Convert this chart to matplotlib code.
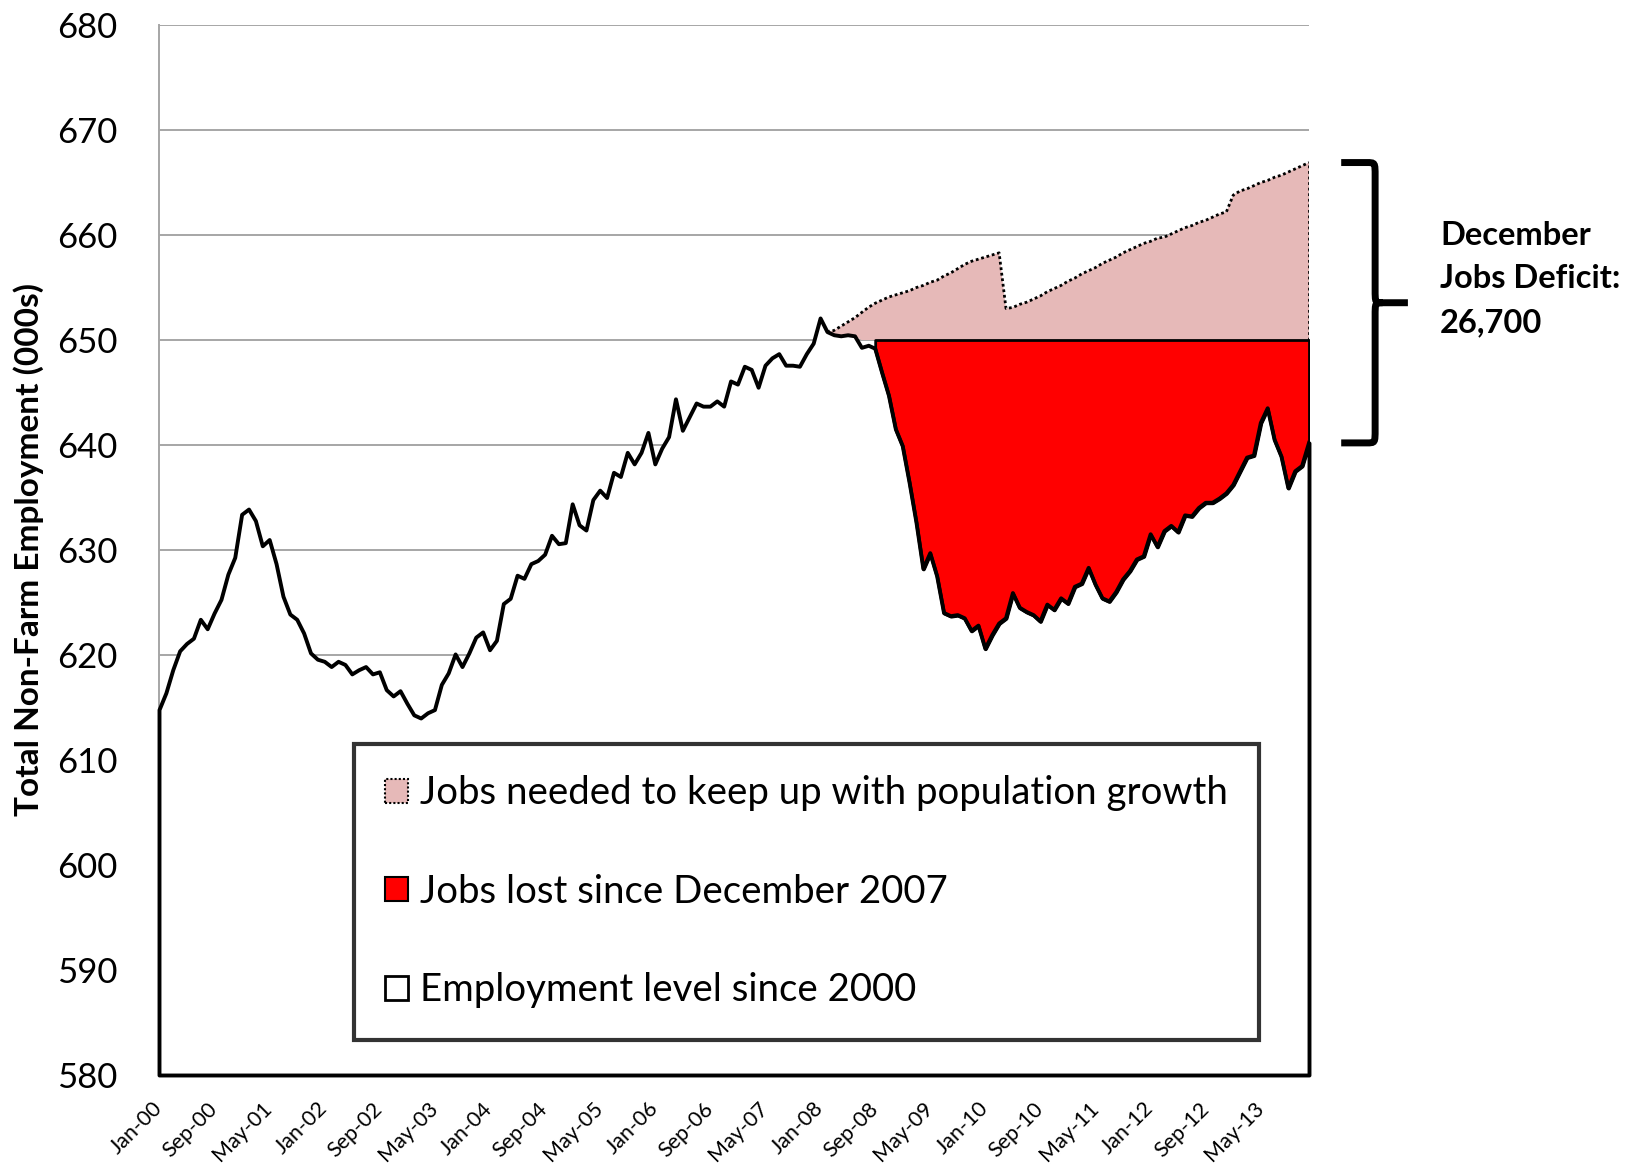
import numpy as np
import matplotlib
matplotlib.use("Agg")
import matplotlib.pyplot as plt
from matplotlib.patches import Patch, PathPatch
from matplotlib.path import Path
from matplotlib.transforms import blended_transform_factory

plt.rcParams["font.family"] = ["Lato", "DejaVu Sans"]

# Monthly total non-farm employment (thousands), Jan 2000 - Dec 2013
employment = [
    # 2000
    614.8, 616.4, 618.6, 620.4, 621.1, 621.6, 623.4, 622.5, 624.0, 625.3, 627.7, 629.3,
    # 2001
    633.4, 633.9, 632.8, 630.4, 631.0, 628.7, 625.6, 623.9, 623.4, 622.1, 620.2, 619.6,
    # 2002
    619.4, 618.9, 619.4, 619.1, 618.2, 618.6, 618.9, 618.2, 618.4, 616.7, 616.1, 616.6,
    # 2003
    615.4, 614.3, 614.0, 614.5, 614.8, 617.2, 618.3, 620.1, 618.9, 620.2, 621.7, 622.2,
    # 2004
    620.5, 621.4, 624.9, 625.4, 627.6, 627.3, 628.7, 629.0, 629.6, 631.4, 630.6, 630.7,
    # 2005
    634.4, 632.4, 631.9, 634.8, 635.7, 635.0, 637.4, 637.0, 639.3, 638.2, 639.3, 641.2,
    # 2006
    638.2, 639.7, 640.8, 644.4, 641.4, 642.7, 644.0, 643.7, 643.7, 644.2, 643.7, 646.1,
    # 2007
    645.8, 647.5, 647.2, 645.5, 647.6, 648.3, 648.7, 647.6, 647.6, 647.5, 648.7, 649.7,
    # 2008
    652.1, 650.8, 650.5, 650.4, 650.5, 650.4, 649.3, 649.5, 649.2, 646.9, 644.7, 641.5,
    # 2009
    639.9, 636.4, 632.6, 628.2, 629.7, 627.5, 624.0, 623.7, 623.8, 623.5, 622.3, 622.8,
    # 2010
    620.6, 621.9, 623.0, 623.5, 625.9, 624.5, 624.1, 623.8, 623.2, 624.8, 624.3, 625.4,
    # 2011
    624.9, 626.5, 626.8, 628.3, 626.7, 625.4, 625.1, 626.0, 627.2, 628.0, 629.1, 629.4,
    # 2012
    631.5, 630.3, 631.8, 632.3, 631.7, 633.3, 633.2, 634.0, 634.5, 634.5, 634.9, 635.4,
    # 2013
    636.2, 637.5, 638.8, 639.0, 642.1, 643.5, 640.5, 638.9, 635.9, 637.5, 638.0, 640.2,
]

# Employment needed to keep pace with population growth, Feb 2008 - Dec 2013
needed_start = 97
needed = [
    650.8, 650.9, 651.3, 651.7, 652.1, 652.6, 653.1, 653.5, 653.8, 654.1, 654.3,
    654.5, 654.7, 655.0, 655.2, 655.5, 655.7, 656.1, 656.4, 656.8, 657.2, 657.5,
    657.7, 657.9, 658.1, 658.3,
    653.0, 653.1, 653.4, 653.6, 653.9, 654.2, 654.6, 654.9, 655.2, 655.6, 655.9,
    656.3, 656.6, 656.9, 657.3, 657.6, 657.9, 658.3, 658.6, 658.9, 659.2, 659.4,
    659.7, 659.8, 660.1, 660.4, 660.7, 660.9, 661.2, 661.4, 661.7, 662.0, 662.2,
    663.8, 664.2, 664.4, 664.7, 665.0, 665.2, 665.5, 665.7, 666.0, 666.3, 666.6,
    666.9,
]

baseline = 650.0          # pre-recession employment reference level
lost_start = 104          # first month counted as a job loss

tick_labels = [
    "Jan-00", "Sep-00", "May-01", "Jan-02", "Sep-02", "May-03", "Jan-04",
    "Sep-04", "May-05", "Jan-06", "Sep-06", "May-07", "Jan-08", "Sep-08",
    "May-09", "Jan-10", "Sep-10", "May-11", "Jan-12", "Sep-12", "May-13",
]

legend_labels = [
    "Jobs needed to keep up with population growth",
    "Jobs lost since December 2007",
    "Employment level since 2000",
]

deficit_text = "December\nJobs Deficit:\n26,700"

PINK = "#E6B9B8"
RED = "#FF0000"
GRID = "#A6A6A6"
DOTS = (0, (1, 1))

emp = np.array(employment)
months = np.arange(len(emp))
need = np.array(needed)
need_x = months[needed_start:]

W, H = 1629, 1170
fig = plt.figure(figsize=(W / 100, H / 100), dpi=100)
ax = fig.add_axes([159 / W, 1 - 1075 / H, 1150 / W, 1050 / H])

ax.set_xlim(0, len(emp) - 1)
ax.set_ylim(580, 680)
ax.set_yticks(np.arange(580, 681, 10))
ax.yaxis.grid(True, color=GRID, linewidth=1.4)
ax.set_axisbelow(True)

# employment level: white area with black outline
ax.fill_between(months, 580, emp, facecolor="white", edgecolor="black",
                linewidth=2.8, zorder=3, clip_on=False)

# jobs needed on top of the reference level (dotted outline)
ax.fill_between(need_x, np.maximum(emp[needed_start:], baseline), need,
                facecolor=PINK, edgecolor="none", zorder=2)
ax.plot(need_x, need, color="black", linewidth=2.0, linestyle=DOTS, zorder=2.5)
ax.vlines(need_x[-1], baseline, need[-1], colors="black", linewidth=2.0,
          linestyles=[DOTS], zorder=2.5)

# jobs lost below the reference level
lost_x = months[lost_start:]
ax.fill_between(lost_x, emp[lost_start:], baseline, facecolor=RED,
                edgecolor="black", linewidth=2.0, zorder=4)
ax.plot(lost_x, emp[lost_start:], color="black", linewidth=2.8, zorder=5)

for side in ("top", "right"):
    ax.spines[side].set_visible(False)
for side in ("left", "bottom"):
    ax.spines[side].set_color(GRID)
    ax.spines[side].set_linewidth(1.4)

ax.set_xticks(np.arange(0, len(emp), 8))
ax.set_xticklabels(tick_labels, rotation=45, ha="right", va="center",
                   rotation_mode="anchor", fontsize=15.5)
ax.tick_params(axis="x", length=0, pad=22)
ax.tick_params(axis="y", length=0, pad=30, labelsize=25)

ax.set_ylabel("Total Non-Farm Employment (000s)", fontsize=24, fontweight="bold")
ax.yaxis.label.set_va("center")
ax.yaxis.set_label_coords(-0.113, 0.5)

# legend
handles = [
    Patch(facecolor=PINK, edgecolor="black", linestyle=DOTS, linewidth=1.5),
    Patch(facecolor=RED, edgecolor="black", linewidth=1.5),
    Patch(facecolor="white", edgecolor="black", linewidth=2.0),
]
leg = ax.legend(handles, legend_labels, loc="upper left",
                bbox_to_anchor=((354 - 159) / 1150, 1 - (744 - 25) / 1050),
                fontsize=27.6, frameon=True, fancybox=False, borderpad=0.82,
                labelspacing=1.63, handlelength=0.58, handleheight=0.58,
                handletextpad=0.32, borderaxespad=0)
leg.get_frame().set_edgecolor("black")
leg.get_frame().set_linewidth(3.0)
leg.set_zorder(10)

# curly brace marking the deficit in the final month
top = need[-1]
bot = emp[-1]
mid = (top + bot) / 2
tr = blended_transform_factory(ax.transAxes, ax.transData)
xa, xb, xv, xn, xt = 1.028, 1.050, 1.0575, 1.064, 1.086
r = 1.3
verts = [
    (xa, top), (xb, top),
    (xv, top), (xv, top), (xv, top - r),
    (xv, mid + r),
    (xv, mid), (xv, mid), (xn, mid),
    (xt, mid),
    (xn, mid),
    (xv, mid), (xv, mid), (xv, mid - r),
    (xv, bot + r),
    (xv, bot), (xv, bot), (xb, bot),
    (xa, bot),
]
codes = [
    Path.MOVETO, Path.LINETO,
    Path.CURVE4, Path.CURVE4, Path.CURVE4,
    Path.LINETO,
    Path.CURVE4, Path.CURVE4, Path.CURVE4,
    Path.LINETO,
    Path.MOVETO,
    Path.CURVE4, Path.CURVE4, Path.CURVE4,
    Path.LINETO,
    Path.CURVE4, Path.CURVE4, Path.CURVE4,
    Path.LINETO,
]
brace = PathPatch(Path(verts, codes), transform=tr, fill=False,
                  edgecolor="black", linewidth=5.0, clip_on=False,
                  capstyle="butt")
ax.add_patch(brace)

fig.text(1440 / W, 1 - 279 / H, deficit_text, fontsize=23.5, fontweight="bold",
         ha="left", va="center", linespacing=1.6)

fig.savefig("out.png", dpi=100, facecolor="white")
